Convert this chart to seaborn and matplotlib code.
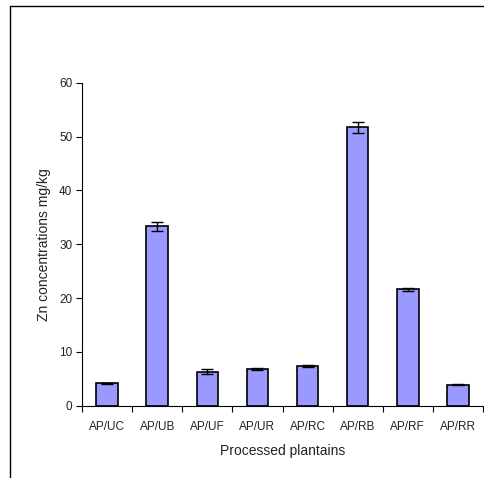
import matplotlib
matplotlib.use("Agg")
import matplotlib.pyplot as plt
import seaborn as sns
import pandas as pd
import numpy as np
from matplotlib.lines import Line2D
from matplotlib.ticker import FixedLocator, NullFormatter

categories = ["AP/UC", "AP/UB", "AP/UF", "AP/UR", "AP/RC", "AP/RB", "AP/RF", "AP/RR"]
zn_values = [4.15, 33.3, 6.3, 6.8, 7.35, 51.7, 21.6, 3.9]
zn_errors = [0.12, 0.8, 0.45, 0.25, 0.2, 1.0, 0.25, 0.12]
y_ticks = [0, 10, 20, 30, 40, 50, 60]

sns.set_theme(style="white")
plt.rcParams["font.family"] = ["Liberation Sans", "DejaVu Sans"]

df = pd.DataFrame({"cat": categories, "zn": zn_values})

fig = plt.figure(figsize=(4.84, 4.78), dpi=100)
ax = fig.add_axes([82 / 484, 1 - 405.7 / 478, (483 - 82) / 484, (405.7 - 82.7) / 478])

sns.barplot(data=df, x="cat", y="zn", color="#9999FF", saturation=1, width=0.43,
            edgecolor="black", linewidth=1.2, errorbar=None, ax=ax)
ax.errorbar(np.arange(len(categories)), zn_values, yerr=zn_errors, fmt="none",
            ecolor="black", elinewidth=1.0, capsize=4.5, capthick=1.0)

ax.set_xlim(-0.5, len(categories) - 0.5)
ax.set_ylim(0, 60)
ax.set_yticks(y_ticks)
ax.set_yticklabels([str(t) for t in y_ticks], fontsize=8.5, color="#222222")

# category boundary ticks
ax.xaxis.set_major_locator(FixedLocator(np.arange(len(categories) + 1) - 0.5))
ax.xaxis.set_major_formatter(NullFormatter())
ax.xaxis.set_minor_locator(FixedLocator(np.arange(len(categories))))
ax.set_xticks(np.arange(len(categories)), labels=categories, minor=True, fontsize=8.5, color="#222222")
ax.tick_params(axis="x", which="major", direction="out", length=4, width=0.8, color="black", bottom=True)
ax.tick_params(axis="x", which="minor", length=0, pad=11)
ax.tick_params(axis="y", direction="out", length=4, width=0.8, color="black", left=True, pad=3)

for s in ["top", "right"]:
    ax.spines[s].set_visible(False)
for s in ["left", "bottom"]:
    ax.spines[s].set_color("black")
    ax.spines[s].set_linewidth(0.8)

ax.set_xlabel("Processed plantains", fontsize=10, labelpad=8, color="#222222")
ax.set_ylabel("Zn concentrations mg/kg", fontsize=10, labelpad=6, color="#222222")

# outer frame (top and left)
fig.add_artist(Line2D([10 / 484, 1.0], [1 - 6 / 478, 1 - 6 / 478], transform=fig.transFigure, color="black", lw=1))
fig.add_artist(Line2D([10 / 484, 10 / 484], [0, 1 - 6 / 478], transform=fig.transFigure, color="black", lw=1))

fig.savefig("out.png", dpi=100)
